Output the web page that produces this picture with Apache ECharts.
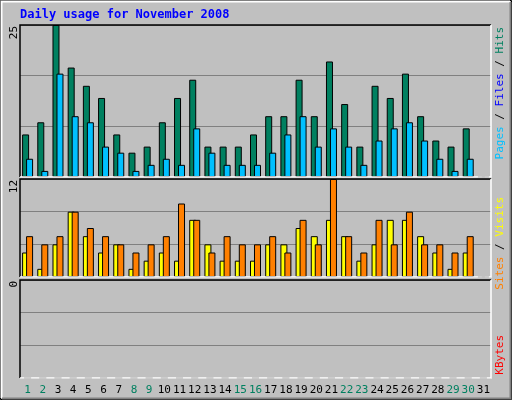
<!DOCTYPE html>
<html><head><meta charset="utf-8">
<script src="https://cdn.jsdelivr.net/npm/echarts@6/dist/echarts.min.js"></script>
<style>html,body{margin:0;padding:0;background:#c0c0c0}#c{width:512px;height:400px}</style>
</head><body><div id="c"></div>
<script>
/* Webalizer daily usage — November 2008 */
const DAYS = [...Array(31).keys()].map(i => String(i + 1));
const WEEKEND = [1, 2, 8, 9, 15, 16, 22, 23, 29, 30];
const HITS  = [7,9,25,18,15,13,7,4,5,9,13,16,5,5,5,7,10,10,16,10,19,12,5,15,13,17,10,6,5,8,0];
const FILES = [3,1,17,10,9,5,4,1,2,3,2,8,4,2,2,2,4,7,10,5,8,5,2,6,8,9,6,3,1,3,0];
const SITES = [3,1,4,8,5,3,4,1,2,3,2,7,4,2,2,2,4,4,6,5,7,5,2,4,7,7,5,3,1,3,0];
const VISITS= [5,4,5,8,6,5,4,3,4,5,9,7,3,5,4,4,5,3,7,4,12,5,3,7,4,8,4,4,3,5,0];
const KBYTES = DAYS.map(() => 0);
const MAX = {hits: 25, visits: 12, kbytes: 0};

const FONT = "DejaVu Sans Mono, monospace";
const L = 20, W = 471;
const panels = [{top: 25, h: 152}, {top: 179, h: 98}, {top: 280, h: 98}];

const bar = (name, data, color, xi, gap) => ({
  name, type: "bar", data, xAxisIndex: xi, yAxisIndex: xi, barWidth: 7, barGap: gap,
  itemStyle: {color, borderColor: "#000", borderWidth: 1}, silent: true, animation: false
});

const bevel = [];
panels.forEach(p => {
  bevel.push({type: "polyline", shape: {points: [[L, p.top + p.h], [L, p.top], [L + W, p.top]]}, style: {stroke: "#000", lineWidth: 1.5, fill: null}, z: 10});
  bevel.push({type: "polyline", shape: {points: [[L + W, p.top], [L + W, p.top + p.h], [L, p.top + p.h]]}, style: {stroke: "#fff", lineWidth: 1.5, fill: null}, z: 10});
});
const vtxt = (x, y, rich, parts) => ({
  type: "text", x, y, rotation: Math.PI / 2, z: 11,
  style: {text: parts, rich, font: `11px ${FONT}`, align: "right", verticalAlign: "middle"}
});
const rich = {
  pg: {fill: "#00c0ff", font: `11px ${FONT}`}, fl: {fill: "#0000ff", font: `11px ${FONT}`}, ht: {fill: "#008060", font: `11px ${FONT}`},
  st: {fill: "#ff8000", font: `11px ${FONT}`}, vs: {fill: "#ffff00", font: `11px ${FONT}`}, kb: {fill: "#ff0000", font: `11px ${FONT}`},
  k: {fill: "#000", font: `11px ${FONT}`}
};

const chart = echarts.init(document.getElementById("c"));
chart.setOption({
  animation: false,
  grid: panels.map(p => ({left: L, top: p.top, width: W, height: p.h, show: false})),
  xAxis: panels.map((p, i) => ({
    type: "category", gridIndex: i, data: DAYS,
    axisLine: {show: false}, axisTick: {show: false},
    axisLabel: i < 2 ? {show: false} : {
      show: true, interval: 0, margin: 7, fontFamily: FONT, fontSize: 11,
      color: (v) => WEEKEND.includes(+v) ? "#008060" : "#000"
    }
  })),
  yAxis: [
    {gridIndex: 0, min: 0, max: MAX.hits, interval: MAX.hits / 3},
    {gridIndex: 1, min: 0, max: MAX.visits, interval: MAX.visits / 3},
    {gridIndex: 2, min: 0, max: 1, interval: 1 / 3}
  ].map(a => Object.assign(a, {type: "value", axisLine: {show: false}, axisTick: {show: false}, axisLabel: {show: false},
    splitLine: {lineStyle: {color: "#808080", width: 1}}})),
  series: [
    bar("Hits", HITS, "#008060", 0, "-43%"),
    bar("Files", FILES, "#00c0ff", 0, "-43%"),
    bar("Sites", SITES, "#ffff00", 1, "-43%"),
    bar("Visits", VISITS, "#ff8000", 1, "-43%"),
    bar("KBytes", KBYTES, "#ff0000", 2, "-43%")
  ],
  graphic: [
    {type: "rect", shape: {x: 0.5, y: 0.5, width: 511, height: 399}, style: {fill: null, stroke: "#000", lineWidth: 1}, z: 12},
    {type: "polyline", shape: {points: [[1.5, 398], [1.5, 1.5], [510, 1.5]]}, style: {stroke: "#fff", lineWidth: 2, fill: null}, z: 12},
    {type: "polyline", shape: {points: [[510.5, 2], [510.5, 398.5], [2, 398.5]]}, style: {stroke: "#808080", lineWidth: 2, fill: null}, z: 12},
    {type: "text", x: 20, y: 9, z: 11, style: {text: "Daily usage for November 2008", font: `bold 12px ${FONT}`, fill: "#0000ff"}},
    {type: "text", x: 14, y: 26, rotation: Math.PI / 2, z: 11, style: {text: String(MAX.hits), font: `11px ${FONT}`, fill: "#000", align: "right", verticalAlign: "middle"}},
    {type: "text", x: 14, y: 180, rotation: Math.PI / 2, z: 11, style: {text: String(MAX.visits), font: `11px ${FONT}`, fill: "#000", align: "right", verticalAlign: "middle"}},
    {type: "text", x: 14, y: 281, rotation: Math.PI / 2, z: 11, style: {text: String(MAX.kbytes), font: `11px ${FONT}`, fill: "#000", align: "right", verticalAlign: "middle"}},
    vtxt(500, 27, rich, "{pg|Pages}{k| / }{fl|Files}{k| / }{ht|Hits}"),
    vtxt(500, 197, rich, "{st|Sites}{k| / }{vs|Visits}"),
    vtxt(500, 335, rich, "{kb|KBytes}"),
    ...bevel
  ]
});
</script></body></html>
